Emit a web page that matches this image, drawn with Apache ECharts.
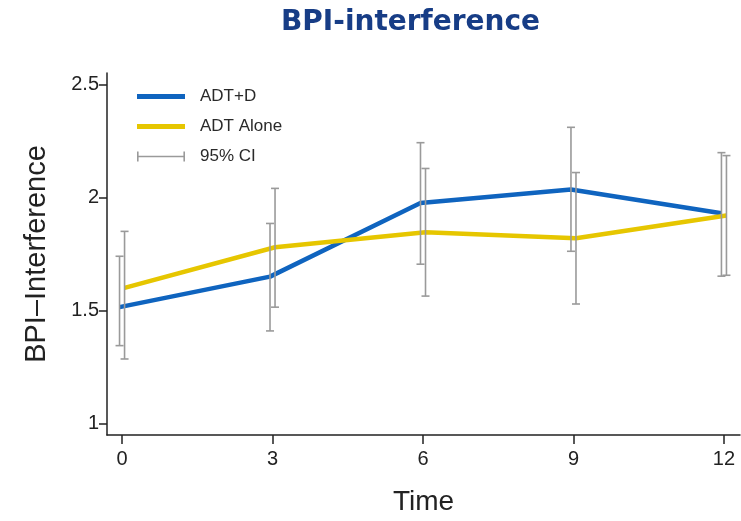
<!DOCTYPE html>
<html>
<head>
<meta charset="utf-8">
<script src="https://cdn.jsdelivr.net/npm/echarts@6/dist/echarts.min.js"></script>
<style>
html,body{margin:0;padding:0;background:#fff;}
#chart{width:741px;height:521px;}
</style>
</head>
<body>
<div id="chart"></div>
<script>
// ---- data ----
const times = [0, 3, 6, 9, 12];
const xTickLabels = [0, 3, 6, 9, 12];
const yTickLabels = [1, 1.5, 2, 2.5];

const adtD = [1.515, 1.65, 1.975, 2.035, 1.93];
const adtDLow = [1.345, 1.41, 1.705, 1.762, 1.652];
const adtDHigh = [1.74, 1.885, 2.242, 2.31, 2.198];

const adtAlone = [1.60, 1.78, 1.846, 1.82, 1.92];
const adtAloneLow = [1.286, 1.515, 1.564, 1.529, 1.656];
const adtAloneHigh = [1.85, 2.04, 2.128, 2.11, 2.185];

const seriesNames = ['ADT+D', 'ADT Alone', '95% CI'];

// ---- styling ----
const BLUE = '#0f64bf';
const YELLOW = '#e6c600';
const GREY = '#9a9a9a';
const AXIS = '#222';
const SANS = '"Liberation Sans", Arial, sans-serif';
const DODGE = 0.05; // horizontal dodge (in time units) between the two groups

const lineD = times.map((t, i) => [t - DODGE, adtD[i]]);
const lineA = times.map((t, i) => [t + DODGE, adtAlone[i]]);
const ciData = times.map((t, i) => [t - DODGE, adtDLow[i], adtDHigh[i]])
  .concat(times.map((t, i) => [t + DODGE, adtAloneLow[i], adtAloneHigh[i]]));

function renderCI(params, api) {
  const x = api.value(0);
  const lo = api.coord([x, api.value(1)]);
  const hi = api.coord([x, api.value(2)]);
  const cap = 4;
  const style = { stroke: GREY, lineWidth: 1.6, fill: null };
  return {
    type: 'group',
    children: [
      { type: 'line', shape: { x1: lo[0], y1: lo[1], x2: hi[0], y2: hi[1] }, style: style },
      { type: 'line', shape: { x1: lo[0] - cap, y1: lo[1], x2: lo[0] + cap, y2: lo[1] }, style: style },
      { type: 'line', shape: { x1: hi[0] - cap, y1: hi[1], x2: hi[0] + cap, y2: hi[1] }, style: style }
    ]
  };
}

const chart = echarts.init(document.getElementById('chart'), null, { renderer: 'canvas' });
chart.setOption({
  animation: false,
  backgroundColor: '#fff',
  title: {
    text: 'BPI-interference',
    left: 281,
    top: 9,
    padding: 0,
    textStyle: { fontFamily: '"DejaVu Sans", Verdana, sans-serif', fontWeight: 'bold', fontSize: 28, color: '#173d86' }
  },
  legend: {
    orient: 'vertical',
    left: 137,
    top: 88,
    padding: 0,
    itemWidth: 48,
    itemHeight: 14,
    itemGap: 13,
    textStyle: { fontFamily: SANS, fontSize: 17, lineHeight: 14, color: '#2a2a2a', padding: [0, 0, 0, 10] },
    data: [
      { name: seriesNames[0], icon: 'path://M0,0h48v5h-48z', itemStyle: { color: BLUE } },
      { name: seriesNames[1], icon: 'path://M0,0h48v5h-48z', itemStyle: { color: YELLOW } },
      { name: seriesNames[2], icon: 'path://M0,0h1.6v10h-1.6z M0,4.2h48v1.6h-48z M46.4,0h1.6v10h-1.6z', itemStyle: { color: GREY } }
    ]
  },
  grid: { left: 107, right: 1, top: 73, bottom: 85 },
  xAxis: {
    type: 'value',
    min: -0.3,
    max: 12.32,
    name: 'Time',
    nameLocation: 'middle',
    nameGap: 53,
    nameTextStyle: { fontFamily: SANS, fontSize: 28, color: AXIS },
    axisLine: { show: true, onZero: false, lineStyle: { color: AXIS, width: 1.5 } },
    axisTick: { show: true, customValues: xTickLabels, length: 9, lineStyle: { color: AXIS, width: 1.5 } },
    axisLabel: { customValues: xTickLabels, fontFamily: SANS, fontSize: 20, color: AXIS, margin: 14 },
    splitLine: { show: false }
  },
  yAxis: {
    type: 'value',
    min: 0.95,
    max: 2.55,
    name: 'BPI–Interference',
    nameLocation: 'middle',
    nameGap: 56,
    nameTextStyle: { fontFamily: SANS, fontSize: 29, color: AXIS },
    axisLine: { show: true, onZero: false, lineStyle: { color: AXIS, width: 1.5 } },
    axisTick: { show: true, customValues: yTickLabels, length: 8, lineStyle: { color: AXIS, width: 1.5 } },
    axisLabel: { customValues: yTickLabels, fontFamily: SANS, fontSize: 20, color: AXIS, margin: 8 },
    splitLine: { show: false }
  },
  series: [
    {
      name: seriesNames[2],
      type: 'custom',
      renderItem: renderCI,
      data: ciData,
      itemStyle: { color: GREY },
      encode: { x: 0, y: [1, 2] },
      z: 3
    },
    {
      name: seriesNames[0],
      type: 'line',
      data: lineD,
      symbol: 'none',
      itemStyle: { color: BLUE },
      lineStyle: { color: BLUE, width: 4.5 },
      z: 2
    },
    {
      name: seriesNames[1],
      type: 'line',
      data: lineA,
      symbol: 'none',
      itemStyle: { color: YELLOW },
      lineStyle: { color: YELLOW, width: 4.5 },
      z: 2
    }
  ]
});
</script>
</body>
</html>
